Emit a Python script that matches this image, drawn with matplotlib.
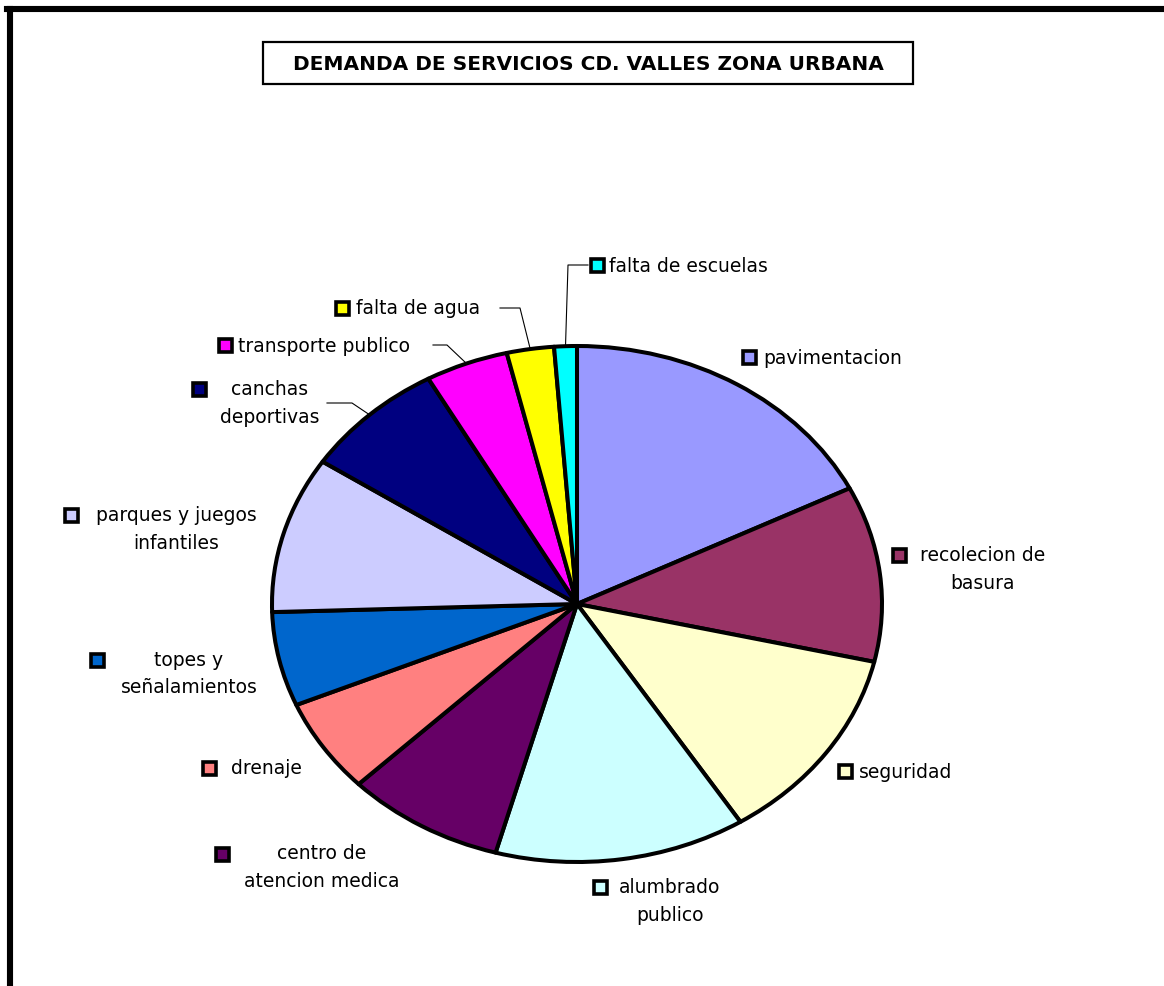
import matplotlib
matplotlib.use('Agg')
import matplotlib.pyplot as plt
import numpy as np
from matplotlib.patches import Rectangle

# ---------------- data ----------------
categories = ["pavimentacion", "recolecion de\nbasura", "seguridad", "alumbrado\npublico",
              "centro de\natencion medica", "drenaje", "topes y\nseñalamientos",
              "parques y juegos\ninfantiles", "canchas\ndeportivas", "transporte publico",
              "falta de agua", "falta de escuelas"]
values = [17.6, 11.0, 12.4, 13.3, 8.4, 5.9, 5.9, 9.8, 7.6, 4.4, 2.5, 1.2]
colors = ["#9999FF", "#993366", "#FFFFCC", "#CCFFFF", "#660066", "#FF8080",
          "#0066CC", "#CCCCFF", "#000080", "#FF00FF", "#FFFF00", "#00FFFF"]
title = "DEMANDA DE SERVICIOS CD. VALLES ZONA URBANA"

# ---------------- layout (pixels, y down) ----------------
W, H = 1164, 987
CX, CY, RX, RY = 577, 605, 305, 258
# (text x, ha, text center y, marker x, marker y)
label_layout = [
    (763, 'left', 358, 749, 358),
    (983, 'center', 569.5, 899, 556),
    (859, 'left', 772, 845, 772),
    (670, 'center', 901.5, 600, 888),
    (322, 'center', 867.5, 222, 855),
    (231, 'left', 769, 209, 769),
    (189, 'center', 674, 97, 661),
    (176, 'center', 529.5, 71, 516),
    (270, 'center', 403.5, 199, 390),
    (238, 'left', 346, 225, 346),
    (356, 'left', 309, 342, 309),
    (609, 'left', 266, 597, 266),
]
# leader lines: slice index -> (start x, elbow x, y)
leaders = {8: (327, 352, 404), 9: (433, 447, 346), 10: (500, 520, 309), 11: (588, 568, 266)}

fig = plt.figure(figsize=(W / 100, H / 100), dpi=100)
fig.patch.set_facecolor('white')

axp = fig.add_axes([(CX - RX) / W, (H - CY - RY) / H, 2 * RX / W, 2 * RY / H])
wedges, _ = axp.pie(values, colors=colors, startangle=90, counterclock=False,
                    wedgeprops=dict(edgecolor='black', linewidth=2.9, joinstyle='round'))
for w in wedges:
    w.set_clip_on(False)
axp.set_aspect('auto')
axp.set_xlim(-1, 1)
axp.set_ylim(-1, 1)
axp.axis('off')

ov = fig.add_axes([0, 0, 1, 1], zorder=5)
ov.set_xlim(0, W)
ov.set_ylim(H, 0)
ov.axis('off')
ov.patch.set_alpha(0)

# outer frame (left and top only visible)
ov.plot([9.5, 9.5], [10, H + 5], color='black', lw=4.4, solid_capstyle='projecting')
ov.plot([7, W + 5], [10, 10], color='black', lw=4.4, solid_capstyle='projecting')

# title box
ov.add_patch(Rectangle((263, 43), 650, 42, facecolor='white', edgecolor='black', lw=1.6))
ov.text(588, 64, title, ha='center', va='center', fontsize=14.5, fontweight='bold',
        family=['DejaVu Sans'], color='black')

fs = 13.5
for i, (lab, lay, col) in enumerate(zip(categories, label_layout, colors)):
    tx, ha, ty, mx, my = lay
    ov.text(tx, ty, lab, ha=ha, va='center', multialignment='center', fontsize=fs,
            family=['DejaVu Sans'], color='black', linespacing=1.55)
    ov.add_patch(Rectangle((mx - 6.5, my - 6.5), 13, 13, facecolor=col, edgecolor='black', lw=2.6))
    if i in leaders:
        sx, ex, ly = leaders[i]
        t = np.deg2rad((wedges[i].theta1 + wedges[i].theta2) / 2)
        ax_ = CX + RX * np.cos(t)
        ay_ = CY - RY * np.sin(t)
        ov.plot([sx, ex, ax_], [ly, ly, ay_], color='black', lw=0.8)

fig.savefig('out.png', dpi=100, facecolor='white')
